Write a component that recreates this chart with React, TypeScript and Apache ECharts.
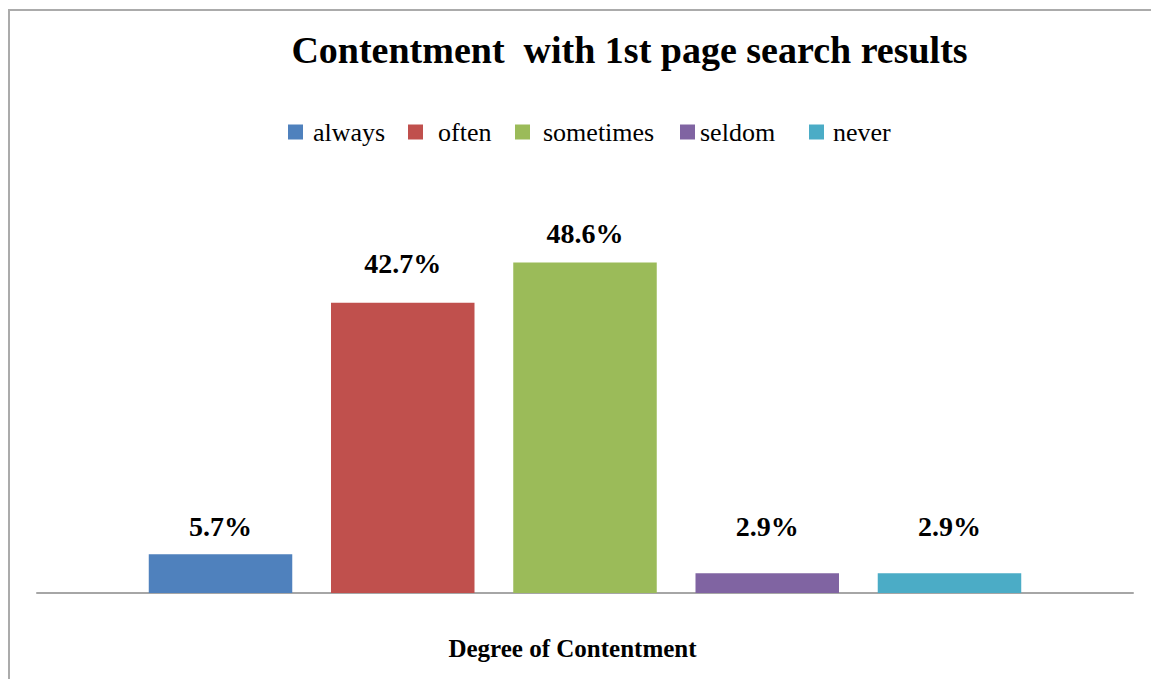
import React, { useEffect, useRef } from "react";
import * as echarts from "echarts";

const titleText = "Contentment  with 1st page search results";
const axisName = "Degree of Contentment";
const categories = [""];
const seriesNames = ["always", "often", "sometimes", "seldom", "never"];
const seriesValues = [5.7, 42.7, 48.6, 2.9, 2.9];
const colors = ["#4F81BD", "#C0504D", "#9BBB59", "#8064A2", "#4BACC6"];
const labelDistances = [14, 25, 15, 33, 33];
const legendLefts = [288, 408, 515, 680, 809];
const legendTextPad = [5, 10, 8, 0, 4];

const FONT = "'Liberation Serif', 'Times New Roman', serif";

export default function App() {
  const ref = useRef<HTMLDivElement>(null);
  useEffect(() => {
    if (!ref.current) return;
    const chart = echarts.init(ref.current, null, { renderer: "svg" });
    const option: any = {
      animation: false,
      backgroundColor: "#ffffff",
      title: {
        text: titleText,
        left: 629.5,
        top: 30,
        textAlign: "center",
        padding: 0,
        textStyle: {
          fontFamily: FONT,
          fontSize: 38,
          fontWeight: "bold",
          color: "#000",
          lineHeight: 40,
        },
      },
      legend: seriesNames.map((n, i) => ({
        data: [n],
        left: legendLefts[i],
        top: 119,
        padding: 0,
        itemWidth: 15,
        itemHeight: 15,
        icon: "rect",
        selectedMode: false,
        textStyle: {
          fontFamily: FONT,
          fontSize: 26,
          color: "#000",
          lineHeight: 26,
          padding: [0, 0, 0, legendTextPad[i]],
        },
      })),
      graphic: [
        {
          type: "rect",
          shape: { x: 9, y: 10, width: 1200, height: 700 },
          style: { fill: "none", stroke: "#ababab", lineWidth: 2 },
          silent: true,
        },
      ],
      grid: { left: 37, right: 18, top: 185, bottom: 86 },
      xAxis: {
        type: "category",
        data: categories,
        name: axisName,
        nameLocation: "middle",
        nameGap: 43,
        nameTextStyle: {
          fontFamily: FONT,
          fontSize: 25,
          fontWeight: "bold",
          color: "#000",
          lineHeight: 25,
          padding: [0, 25, 0, 0],
        },
        axisLine: { show: true, lineStyle: { color: "#a6a6a6", width: 2 } },
        axisTick: { show: false },
        axisLabel: { show: false },
        splitLine: { show: false },
      },
      yAxis: {
        type: "value",
        min: 0,
        max: 60,
        show: false,
        splitLine: { show: false },
      },
      series: seriesNames.map((n, i) => ({
        name: n,
        type: "bar",
        data: [seriesValues[i]],
        barWidth: 143.5,
        barGap: "27%",
        itemStyle: { color: colors[i] },
        label: {
          show: true,
          position: "top",
          distance: labelDistances[i],
          formatter: "{c}%",
          fontFamily: FONT,
          fontSize: 28,
          fontWeight: "bold",
          color: "#000",
          lineHeight: 28,
        },
      })),
    };
    chart.setOption(option);
    return () => chart.dispose();
  }, []);
  return (
    <div
      ref={ref}
      style={{ position: "fixed", left: 0, top: 0, width: 1151, height: 679 }}
    />
  );
}
